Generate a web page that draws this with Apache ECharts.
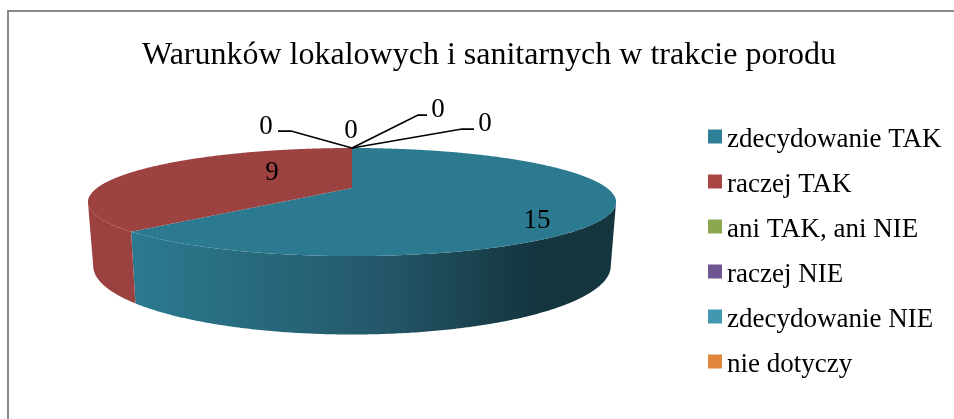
<!DOCTYPE html>
<html>
<head>
    <meta charset="utf-8">
    <title>Warunków lokalowych i sanitarnych w trakcie porodu</title>
    <style>
      html, body { margin: 0; padding: 0; background: #fff; }
    </style>
    <script src="https://cdn.jsdelivr.net/npm/echarts@6/dist/echarts.min.js"></script>
</head>
<body>
    <div id="main" style="width:954px;height:419px;"></div>
    <script type="text/javascript">
      var titleText = 'Warunków lokalowych i sanitarnych w trakcie porodu';
      var categories = ['zdecydowanie TAK', 'raczej TAK', 'ani TAK, ani NIE', 'raczej NIE', 'zdecydowanie NIE', 'nie dotyczy'];
      var values = [15, 9, 0, 0, 0, 0];
      var colors = ['#2e7f98', '#a94543', '#8ca84f', '#6f5592', '#4298b0', '#df853c'];

      var fontName = '"Liberation Serif", "Times New Roman", serif';

      // pie drawn in perspective: circle point -> screen
      var cam = { cx: 352, R: 255, k: 0.26, H: 50.4, topY: 188, botY: 248, botSx: 0.98, botSy: 1.27 };
      var topColors = ['#2b7a8f', '#9c4240'];
      var wallStops = [
        [{ offset: 0, color: '#2b7a8f' }, { offset: 0.51, color: '#24586a' }, { offset: 0.85, color: '#14343e' }, { offset: 1, color: '#15353f' }],
        [{ offset: 0, color: '#9b4240' }, { offset: 1, color: '#9b4240' }]
      ];

      // the wall only shows between the two points where the rim turns back
      var wallFrom = Math.acos(-cam.k);
      var wallTo = Math.PI * 2 - wallFrom;

      // text placement per slice: [label x, label y, leader points]
      var labelLayout = [
        { at: [537, 221] },
        { at: [272, 173] },
        { at: [266, 127], line: [[278, 131], [291, 131], [352, 148]] },
        { at: [351, 131] },
        { at: [438, 110], line: [[352, 148], [418, 115], [427, 115]] },
        { at: [485, 124], line: [[352, 148], [462, 129], [474, 129]] }
      ];

      var total = values.reduce(function (a, b) { return a + b; }, 0);

      function project(angle, bottom) {
        var X = Math.sin(angle), Z = -Math.cos(angle);
        var w = 1 - cam.k * Z;
        var x = cam.R * X / w, y = cam.H * Z / w;
        if (bottom) {
          return [cam.cx + x * cam.botSx, cam.botY + y * cam.botSy];
        }
        return [cam.cx + x, cam.topY + y];
      }

      function arc(from, to, bottom) {
        var pts = [];
        var n = Math.max(2, Math.ceil((to - from) / (Math.PI / 360)));
        for (var i = 0; i <= n; i++) {
          pts.push(project(from + (to - from) * i / n, bottom));
        }
        return pts;
      }

      function renderSlice(index) {
        return function () {
          var before = values.slice(0, index).reduce(function (a, b) { return a + b; }, 0);
          var from = before / total * Math.PI * 2;
          var to = (before + values[index]) / total * Math.PI * 2;
          var children = [];
          if (values[index] > 0) {
            var a = Math.max(from, wallFrom), b = Math.min(to, wallTo);
            if (b > a) {
              children.push({
                type: 'polygon', z2: 1,
                shape: { points: arc(a, b, false).concat(arc(a, b, true).reverse()) },
                style: {
                  fill: {
                    type: 'linear', global: true, x: 135, y: 0, x2: 612, y2: 0,
                    colorStops: wallStops[index]
                  }
                }
              });
            }
            children.push({
              type: 'polygon', z2: 2,
              shape: { points: [[cam.cx, cam.topY]].concat(arc(from, to, false)) },
              style: { fill: topColors[index] }
            });
          }
          var lay = labelLayout[index];
          if (lay.line) {
            children.push({
              type: 'polyline', z2: 3, shape: { points: lay.line },
              style: { stroke: '#000', lineWidth: 1.75, fill: null }
            });
          }
          children.push({
            type: 'text', z2: 4, x: lay.at[0], y: lay.at[1],
            style: {
              text: String(values[index]), fill: '#000', font: '27px ' + fontName,
              textAlign: 'center', textVerticalAlign: 'middle'
            }
          });
          return { type: 'group', children: children };
        };
      }

      var echart = echarts.init(document.getElementById('main'));
      var option = {
        animation: false,
        title: {
          text: titleText, left: 137, top: 35,
          textStyle: { fontFamily: fontName, fontSize: 32, fontWeight: 'normal', color: '#000' }
        },
        legend: {
          orient: 'vertical', left: 703, top: 115, itemWidth: 14, itemHeight: 14, itemGap: 12,
          icon: 'rect', selectedMode: false,
          formatter: '{t|{name}}',
          textStyle: {
            fontFamily: fontName, fontSize: 27, color: '#000',
            rich: { t: { fontFamily: fontName, fontSize: 27, color: '#000', lineHeight: 30, padding: [6, 0, 0, 0] } }
          },
          data: categories
        },
        graphic: [{
          type: 'polyline', silent: true,
          shape: { points: [[8, 419], [8, 11], [954, 11]] },
          style: { stroke: '#8a8a8a', lineWidth: 2, fill: null }
        }],
        series: categories.map(function (name, i) {
          return {
            type: 'custom', name: name, coordinateSystem: 'none', silent: true,
            itemStyle: { color: colors[i] },
            data: [values[i]],
            renderItem: renderSlice(i)
          };
        })
      };
      echart.setOption(option);
    </script>
</body>
</html>
